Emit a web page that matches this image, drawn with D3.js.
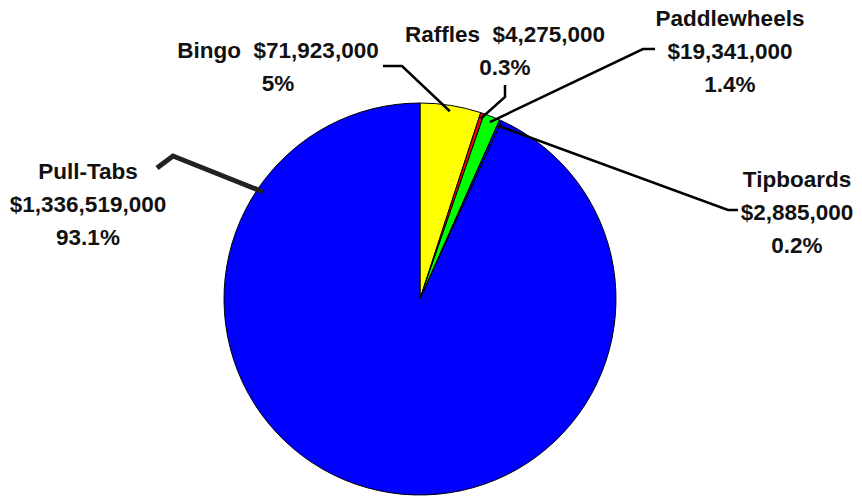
<!DOCTYPE html>
<html>
<head>
<meta charset="utf-8">
<script src="https://cdn.jsdelivr.net/npm/d3@7"></script>
<style>
  html, body { margin: 0; padding: 0; background: #fff; }
  svg { display: block; }
  .lbl { font-family: "Liberation Sans", Arial, sans-serif; font-weight: bold; font-size: 22.5px; fill: #111; white-space: pre; }
</style>
</head>
<body>
<svg id="chart" width="862" height="501"></svg>
<script>
// data
const categories = ["Bingo", "Raffles", "Paddlewheels", "Tipboards", "Pull-Tabs"];
const values = [71923000, 4275000, 19341000, 2885000, 1336519000];
const valueLabels = ["$71,923,000", "$4,275,000", "$19,341,000", "$2,885,000", "$1,336,519,000"];
const pctLabels = ["5%", "0.3%", "1.4%", "0.2%", "93.1%"];
const colors = ["#ffff00", "#ff0000", "#00ff00", "#0000ff", "#0000ff"];

const width = 862, height = 501;
const cx = 420, cy = 299, radius = 196;

// label layout: center x, first baseline, whether name+value share a line,
// leader elbow + end, optional anchor angle (deg) override
const labelLayout = [
  { x: 278, y: 58, joined: true, pts: [[402, 66], [383, 66]] },
  { x: 505, y: 42, joined: true, pts: [[505, 97], [505, 85]] },
  { x: 730, y: 26, joined: false, pts: [[643, 49], [655, 49]] },
  { x: 797, y: 187, joined: false, pts: [[728, 210], [738, 210]] },
  { x: 88, y: 179, joined: false, pts: [[173, 156], [157, 168]], angle: 304.3, thick: true }
];
const lineGap = 33;

const svg = d3.select("#chart");
const g = svg.append("g").attr("transform", `translate(${cx},${cy})`);

const pie = d3.pie().sort(null).value(d => d);
const arcs = pie(values);
const arc = d3.arc().innerRadius(0).outerRadius(radius);

g.selectAll("path.slice")
  .data(arcs)
  .join("path")
  .attr("class", "slice")
  .attr("d", arc)
  .attr("fill", (d, i) => colors[i])
  .attr("stroke", "#000")
  .attr("stroke-width", 1);

// leader lines
const line = d3.line();
arcs.forEach((a, i) => {
  const lay = labelLayout[i];
  const ang = lay.angle !== undefined ? lay.angle * Math.PI / 180 : (a.startAngle + a.endAngle) / 2;
  const r = radius * 0.97;
  const start = [cx + r * Math.sin(ang), cy - r * Math.cos(ang)];
  svg.append("path")
    .attr("d", line([start, ...lay.pts]))
    .attr("fill", "none")
    .attr("stroke", lay.thick ? "#222" : "#000")
    .attr("stroke-width", lay.thick ? 5 : 2.5);
});

// labels
categories.forEach((name, i) => {
  const lay = labelLayout[i];
  const lines = lay.joined
    ? [name + "  " + valueLabels[i], pctLabels[i]]
    : [name, valueLabels[i], pctLabels[i]];
  const t = svg.append("text")
    .attr("class", "lbl")
    .attr("text-anchor", "middle");
  lines.forEach((s, k) => {
    t.append("tspan")
      .attr("x", lay.x)
      .attr("y", lay.y + k * lineGap)
      .text(s);
  });
});
</script>
</body>
</html>
